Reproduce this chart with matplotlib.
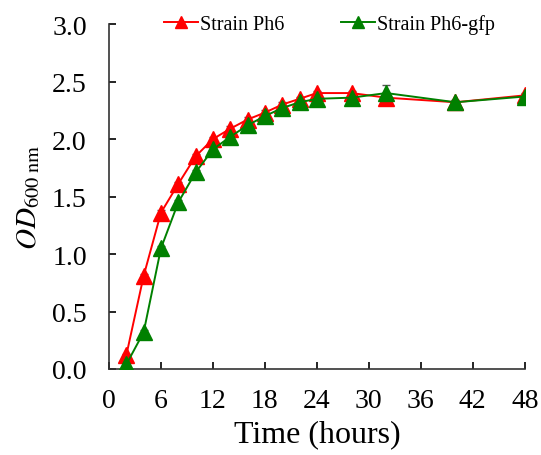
import matplotlib.pyplot as plt

# growth curve data
hours = [2, 4, 6, 8, 10, 12, 14, 16, 18, 20, 22, 24, 28, 32, 40, 48]
od_ph6 = [0.12, 0.81, 1.36, 1.61, 1.85, 2.00, 2.09, 2.17, 2.23, 2.30, 2.35, 2.40, 2.40, 2.36, 2.32, 2.38]
od_gfp = [0.04, 0.32, 1.05, 1.45, 1.71, 1.91, 2.02, 2.12, 2.20, 2.27, 2.32, 2.35, 2.36, 2.40, 2.32, 2.37]
err_ph6 = [0.01, 0.02, 0.02, 0.02, 0.02, 0.02, 0.02, 0.02, 0.02, 0.02, 0.02, 0.02, 0.02, 0.02, 0.02, 0.02]
err_gfp = [0.01, 0.02, 0.02, 0.02, 0.02, 0.02, 0.02, 0.02, 0.02, 0.02, 0.02, 0.02, 0.02, 0.07, 0.02, 0.02]

x_ticks = [0, 6, 12, 18, 24, 30, 36, 42, 48]
y_ticks = [0.0, 0.5, 1.0, 1.5, 2.0, 2.5, 3.0]

plt.rcParams['font.family'] = ['Liberation Serif', 'DejaVu Serif']
plt.rcParams['mathtext.fontset'] = 'stix'

fig = plt.figure(figsize=(5.41, 4.56), dpi=100)
ax = fig.add_axes([0.2015, 0.1886, 0.7685, 0.7564])

# error bars first, then the lines with markers on top
ax.errorbar(hours, od_ph6, yerr=err_ph6, fmt='none', ecolor='#555555', elinewidth=1, capsize=3, zorder=2)
ax.errorbar(hours, od_gfp, yerr=err_gfp, fmt='none', ecolor='#555555', elinewidth=1, capsize=3, zorder=2)
ax.plot(hours, od_ph6, color='#ff0000', marker='^', markersize=11, linewidth=1.4,
        label='Strain Ph6', zorder=3)
ax.plot(hours, od_gfp, color='#008000', marker='^', markersize=11, linewidth=1.4,
        label='Strain Ph6-gfp', zorder=4)

ax.set_xlim(0, 48)
ax.set_ylim(0, 3.0)
ax.set_xticks(x_ticks)
ax.set_yticks(y_ticks)
ax.set_yticklabels(['%.1f' % v for v in y_ticks])
ax.tick_params(direction='in', length=5, width=1.2, labelsize=20)
ax.tick_params(axis='x', pad=14)
ax.tick_params(axis='y', pad=16)

for side in ['top', 'right']:
    ax.spines[side].set_visible(False)
for side in ['left', 'bottom']:
    ax.spines[side].set_linewidth(1.2)
    ax.spines[side].set_color('#333333')

ax.set_xlabel('Time (hours)', fontsize=23, labelpad=4)
ax.set_ylabel(r'$\mathit{OD}_{\mathrm{600\ nm}}$', fontsize=21, labelpad=7)

ax.legend(loc='center', bbox_to_anchor=(0.53, 1.0), ncol=2, frameon=False,
          fontsize=14.5, handlelength=1.7, handletextpad=0.1, columnspacing=2.8, markerscale=0.85)

fig.savefig('out.png', dpi=100)
